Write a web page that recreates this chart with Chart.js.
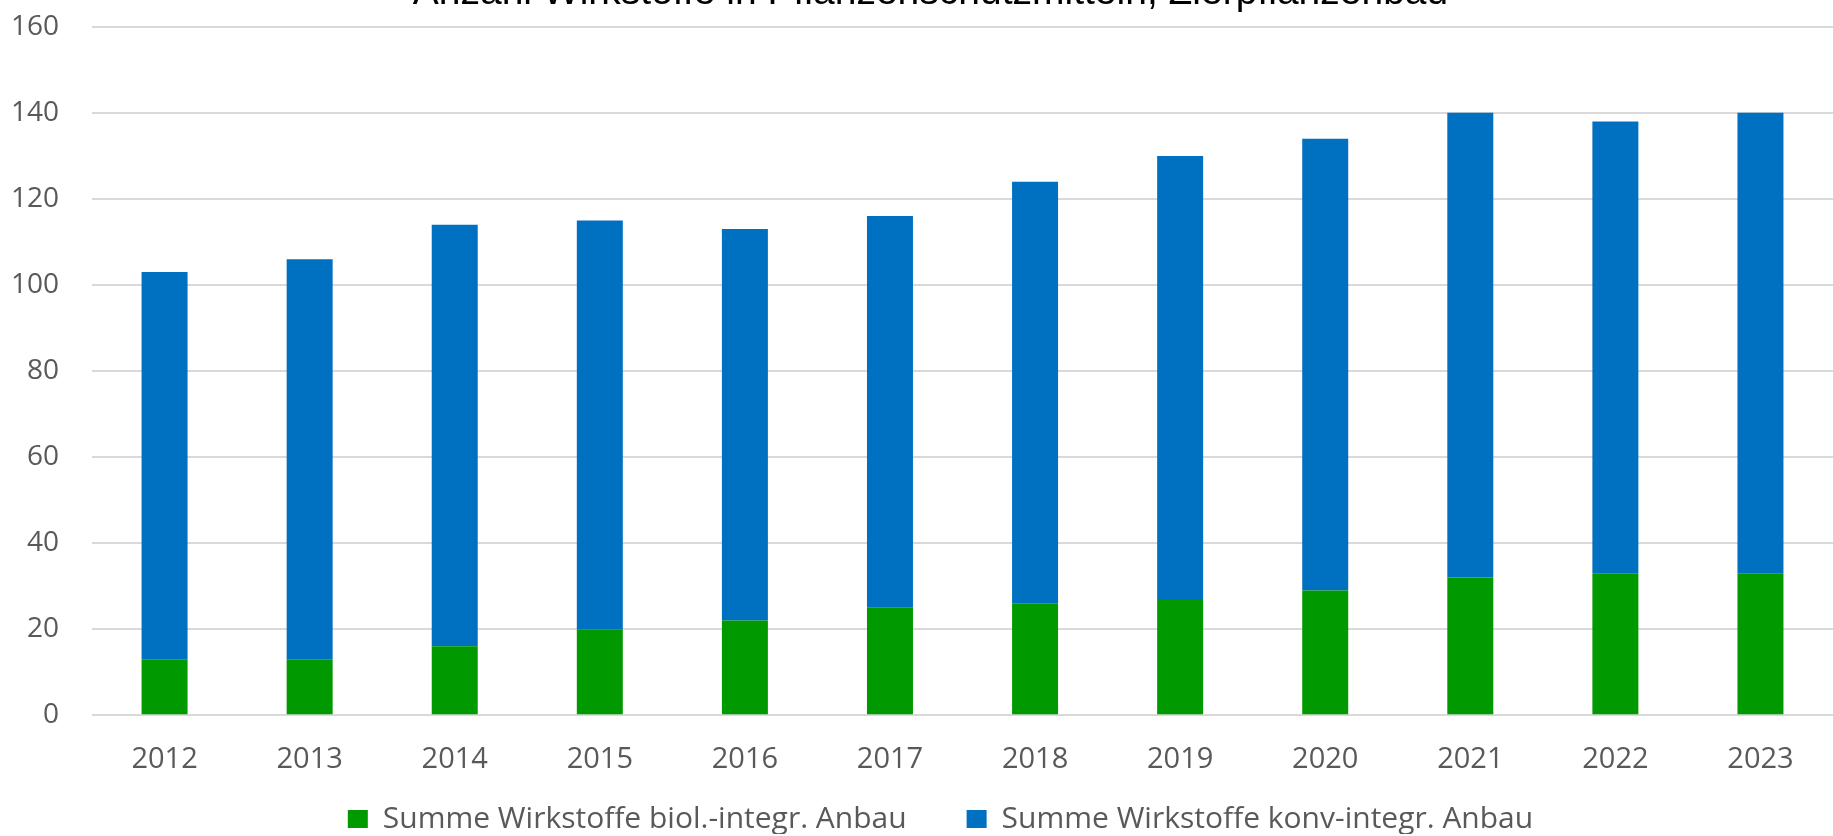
<!DOCTYPE html>
<html>
<head>
<meta charset="utf-8">
<script src="https://cdn.jsdelivr.net/npm/chart.js@4/dist/chart.umd.min.js"></script>
<style>
  html, body { margin: 0; padding: 0; background: #ffffff; overflow: hidden; }
  #wrap { position: relative; width: 1833px; height: 866px; margin-top: -30px; }
</style>
</head>
<body>
<div id="wrap"><canvas id="c"></canvas></div>
<script>
const categories = ['2012','2013','2014','2015','2016','2017','2018','2019','2020','2021','2022','2023'];
const biolValues = [13, 13, 16, 20, 22, 25, 26, 27, 29, 32, 33, 33];
const konvValues = [90, 93, 98, 95, 91, 91, 98, 103, 105, 108, 105, 107];
const seriesNames = ['Summe Wirkstoffe biol.-integr. Anbau', 'Summe Wirkstoffe konv-integr. Anbau'];
const titleText = 'Anzahl Wirkstoffe in Pflanzenschutzmitteln, Zierpflanzenbau';
const yMin = 0, yMax = 160, yStep = 20;

const LEGEND_GAP = 60;
const LEGEND_FONT = 30;

// Place the legend row close to the bottom edge while keeping a wide gap between items.
const legendPlacer = {
  id: 'legendPlacer',
  afterLayout(chart) {
    const lg = chart.legend;
    if (lg) {
      lg.top = lg.bottom - LEGEND_GAP - 30;
      lg.left += 20;
      lg.right += 20;
    }
    const tb = chart.titleBlock;
    if (tb) {
      tb.left += 10;
      tb.right += 10;
    }
  }
};

new Chart(document.getElementById('c'), {
  type: 'bar',
  data: {
    labels: categories,
    datasets: [
      { label: seriesNames[0], data: biolValues, backgroundColor: '#009900', borderWidth: 0,
        categoryPercentage: 1.0, barPercentage: 0.317 },
      { label: seriesNames[1], data: konvValues, backgroundColor: '#0070C0', borderWidth: 0,
        categoryPercentage: 1.0, barPercentage: 0.317 }
    ]
  },
  plugins: [legendPlacer],
  options: {
    responsive: true,
    maintainAspectRatio: false,
    animation: false,
    layout: { padding: { left: 8, right: 0, top: 0, bottom: 2 } },
    plugins: {
      title: {
        display: true, text: titleText, color: '#000000',
        font: { family: '"Liberation Sans", Arial, sans-serif', size: 39, weight: 'normal' },
        padding: { top: 0, bottom: 10 }
      },
      legend: {
        position: 'bottom',
        maxHeight: 30,
        labels: {
          color: '#595959',
          font: { family: '"Open Sans", sans-serif', size: LEGEND_FONT },
          boxWidth: 20, boxHeight: 18, padding: LEGEND_GAP
        }
      },
      tooltip: { enabled: false }
    },
    scales: {
      x: {
        stacked: true,
        grid: { display: false, drawTicks: false },
        border: { display: false },
        ticks: { color: '#595959', font: { family: '"Open Sans", sans-serif', size: 29 }, padding: 27, maxRotation: 0 }
      },
      y: {
        stacked: true,
        min: yMin, max: yMax,
        grid: { color: '#d9d9d9', lineWidth: 2, drawTicks: true, tickLength: 30, tickColor: 'rgba(0,0,0,0)' },
        border: { display: false },
        ticks: { stepSize: yStep, color: '#595959', font: { family: '"Open Sans", sans-serif', size: 28 }, padding: 3 }
      }
    }
  }
});
</script>
</body>
</html>
